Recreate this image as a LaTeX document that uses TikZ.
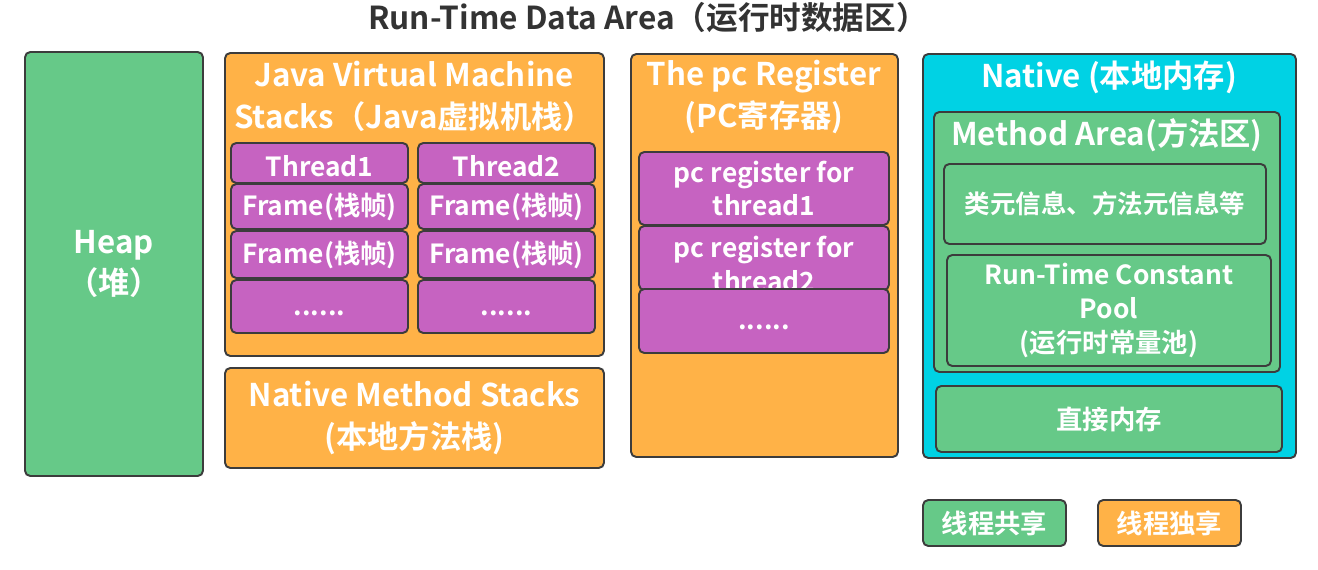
\documentclass[tikz,border=0pt]{standalone}
\usepackage{fontspec}
\setmainfont{Noto Sans CJK SC}[BoldFont={Noto Sans CJK SC Bold}]
\definecolor{sharedgreen}{RGB}{102,201,136}
\definecolor{privateorange}{RGB}{255,178,71}
\definecolor{slotpurple}{RGB}{198,99,193}
\definecolor{nativecyan}{RGB}{0,210,228}
\definecolor{edgegray}{RGB}{60,60,60}
\definecolor{titlegray}{RGB}{51,51,51}
\tikzset{
  celltext/.style={inner sep=0pt,text=white,align=center,
    font=\fontsize{15}{19.3}\selectfont\bfseries},
  area/.style={celltext,draw=edgegray,line width=1.1pt,rounded corners=3pt},
  dims/.style 2 args={minimum width=#1*0.02cm,minimum height=#2*0.02cm},
  shared/.style={area,fill=sharedgreen},
  private/.style={area,fill=privateorange},
  slot/.style={area,fill=slotpurple},
  native/.style={area,fill=nativecyan},
  dots/.style={text height=10pt,text depth=0pt},
  big/.style={font=\fontsize{17.8}{23.8}\selectfont\bfseries},
  heading/.style={celltext,big}
}

\begin{document}
\begin{tikzpicture}[x=0.02cm,y=-0.02cm]
\useasboundingbox (0,0) rectangle (1318,570);
\node[font=\fontsize{18}{21}\selectfont\bfseries,text=titlegray] (title) at (648,18)
  {Run-Time Data Area（运行时数据区）};
% heap
\node[shared,big,dims={178}{424}] (heap) at (114,264) {Heap\\（堆）};
% java stacks
\node[private,dims={379}{303}] (jvm) at (414.5,204.5) {};
\node[heading] (jvmtitle) at (414,96) {Java Virtual Machine\\Stacks（Java虚拟机栈）};
\foreach \t/\x in {1/319.5,2/506.5}{
  \node[slot,dims={177}{40},text height=15.6pt,text depth=0pt] (thread\t) at (\x,163) {Thread\t};
  \node[slot,dims={177}{45}] (frameA\t) at (\x,206.5) {Frame(栈帧)};
  \node[slot,dims={177}{47}] (frameB\t) at (\x,254.5) {Frame(栈帧)};
  \node[slot,dots,dims={177}{53}] (more\t) at (\x,306.5) {......};
}
\node[private,big,dims={379}{100}] (nms) at (414.5,418) {Native Method Stacks\\(本地方法栈)};
% pc register
\node[private,dims={267}{403}] (pc) at (764.5,255.5) {};
\node[heading] (pctitle) at (764,97) {The pc Register\\(PC寄存器)};
\node[slot,dims={250}{73}] (pcA) at (764,188.5) {pc register for\\thread1};
\node[slot,dims={250}{64}] (pcB) at (764,258) {};
\node[celltext] (pcBtext) at (764,264) {pc register for\\thread2};
\node[slot,dots,dims={250}{64}] (pcmore) at (764,321) {......};
% native memory
\node[native,dims={373}{404}] (native) at (1109.5,256) {};
\node[heading] (nativetitle) at (1109,77) {Native (本地内存)};
\node[shared,dims={346}{260}] (method) at (1107,242) {};
\node[heading] (methodtitle) at (1107,135) {Method Area(方法区)};
\node[shared,dims={322}{80},font=\fontsize{14.5}{18}\selectfont\bfseries] (meta) at (1105,204)
  {类元信息、方法元信息等};
\node[shared,dims={324}{111}] (pool) at (1109,310.5) {Run-Time Constant\\Pool\\(运行时常量池)};
\node[shared,dims={346}{66}] (direct) at (1109,419) {直接内存};
% legend
\node[shared,dims={143}{46}] (legshared) at (994.5,523) {线程共享};
\node[private,dims={143}{46}] (legprivate) at (1169.5,523) {线程独享};
\end{tikzpicture}
\end{document}
